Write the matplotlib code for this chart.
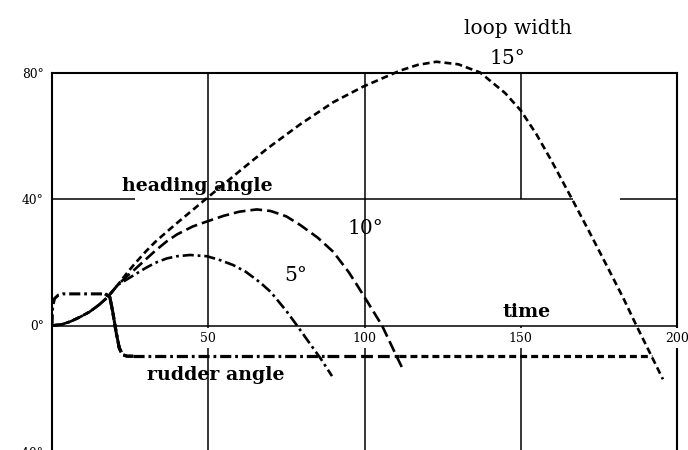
import matplotlib
matplotlib.use("Agg")
import matplotlib.pyplot as plt

plt.rcParams["font.family"] = ["DejaVu Serif"]
plt.rcParams["lines.scale_dashes"] = False

# ---- data -------------------------------------------------------------
loop_labels = ["5°", "10°", "15°"]

# heading angle (deg) vs time for each loop width
t_5 = [0, 3, 6, 9, 12, 15, 17.5, 19, 21, 24, 26, 30, 33, 36.7, 40, 44.2, 49.6, 54, 58, 62,
       66.6, 70, 75, 78.4, 82, 86, 89.6]
h_5 = [0, 0.3, 1.3, 2.7, 4.3, 6.5, 8.7, 10.4, 12.8, 14.6, 15.8, 18.2, 19.8, 21.2, 21.9, 22.3,
       21.9, 20.6, 19.1, 17.0, 13.6, 10.6, 4.6, 0.0, -5.0, -10.5, -16.0]

t_10 = [0, 3, 6, 9, 12, 15, 17.5, 19, 21, 24, 26, 30, 33, 36.7, 40, 45, 49.6, 55, 60, 65.5,
        70, 75, 79.4, 85, 90, 95, 97.6, 100, 105.6, 110.4, 112.6]
h_10 = [0, 0.3, 1.3, 2.7, 4.3, 6.5, 8.7, 10.4, 12.8, 15.6, 17.3, 20.9, 23.6, 26.6, 28.8, 31.3,
        32.9, 34.7, 36.0, 36.7, 36.2, 34.5, 31.8, 27.8, 23.3, 16.8, 12.8, 9.0, 0.0, -10.0, -14.5]

t_15 = [0, 3, 6, 9, 12, 15, 17.5, 19, 21, 24, 26, 30, 33, 36.7, 40, 49.6, 60, 68.7, 79.4, 90,
        99.5, 111.4, 117, 123, 130, 137, 145, 150, 155, 160, 166.4, 172, 178, 183, 187, 192,
        195.5]
h_15 = [0, 0.3, 1.3, 2.7, 4.3, 6.5, 8.7, 10.4, 12.8, 16.6, 19.0, 23.4, 26.4, 29.6, 32.4, 40.3,
        48.8, 55.8, 63.6, 70.6, 75.5, 80.6, 82.4, 83.4, 82.6, 80.0, 73.5, 68.0, 60.5, 51.8,
        40.0, 29.5, 18.0, 8.3, 0.0, -10.0, -17.0]

# rudder angle (deg): common step manoeuvre, then held until each loop ends
t_rud = [0, 0.2, 0.8, 2, 3.5, 17, 18.5, 19.5, 20.5, 21.5, 22.5, 24, 26]
r_rud = [0, 6, 8.5, 9.6, 10, 10, 9, 4, -2, -7, -9.2, -9.7, -9.7]
rudder_hold = -9.7
rudder_end = [88, 111, 192]

x_ticks = [50, 100, 150, 200]
y_ticks = [80, 40, 0, -40]
y_tick_labels = ["80°", "40°", "0°", "-40°"]

# ---- figure ------------------------------------------------------------
fig = plt.figure(figsize=(6.88, 4.5), dpi=100)
ax = fig.add_axes([52 / 688, -2 / 450, 625 / 688, 379.5 / 450])
ax.set_xlim(0, 200)
ax.set_ylim(-40, 80)

for side in ("left", "top", "right"):
    ax.spines[side].set_linewidth(1.5)
ax.spines["bottom"].set_visible(False)

ax.set_xticks([])
ax.set_yticks(y_ticks)
ax.set_yticklabels(y_tick_labels, fontsize=8.8)
ax.tick_params(axis="y", length=0, pad=6)

grid_kw = dict(color="black", lw=1.1, zorder=1)
ax.axhline(0, **grid_kw)
ax.hlines([40, 40, 40], [0, 41, 181.8], [26.6, 166.7, 200], **grid_kw)
ax.axvline(50, **grid_kw)
ax.axvline(100, **grid_kw)
ax.vlines([150, 150], [40, -40], [80, 0], **grid_kw)

for xt in x_ticks:
    ax.text(xt, -4, str(xt), ha="center", va="center", fontsize=9, zorder=3,
            bbox=dict(facecolor="white", edgecolor="none", pad=2.5))

# line styles: 5° dash-dot, 10° long dash, 15° short dash
styles = [(0, (8, 2.8, 2, 2.8)), (0, (8.5, 3.6)), (0, (5, 2.9))]
heading = [(t_5, h_5), (t_10, h_10), (t_15, h_15)]
for (tt, hh), ls in zip(heading, styles):
    ax.plot(tt, hh, color="black", lw=1.9, linestyle=ls, zorder=4, clip_on=False)

# rudder traces: the step is shared, all three overlap on the steep reversal,
# and each hold segment starts where the shorter one stops
ax.plot(t_rud, r_rud, color="black", lw=2.2, linestyle=styles[0], zorder=4)
for ls in styles[1:]:
    ax.plot(t_rud[5:], r_rud[5:], color="black", lw=2.2, linestyle=ls, zorder=4)
start = t_rud[-1]
for i, ls in enumerate(styles):
    ax.plot([start, rudder_end[i]], [rudder_hold, rudder_hold], color="black",
            lw=2.3, linestyle=ls, zorder=4)
    start = rudder_end[i]

# annotations
ax.text(46.6, 42.5, "heading angle", ha="center", va="baseline", fontsize=13.7,
        fontweight="bold", zorder=5)
ax.text(52.5, -17.2, "rudder angle", ha="center", va="baseline", fontsize=13.7,
        fontweight="bold", zorder=5)
ax.text(152, 2.8, "time", ha="center", va="baseline", fontsize=13.7,
        fontweight="bold", zorder=5)
ax.text(149, 92.1, "loop width", ha="center", va="baseline", fontsize=14.5, zorder=5)
ax.text(145.6, 82.6, loop_labels[2], ha="center", va="baseline", fontsize=14.5, zorder=5)
ax.text(100.2, 28.8, loop_labels[1], ha="center", va="baseline", fontsize=14.5, zorder=5)
ax.text(78, 14.1, loop_labels[0], ha="center", va="baseline", fontsize=14.5, zorder=5)

fig.savefig("out.png", dpi=100)
